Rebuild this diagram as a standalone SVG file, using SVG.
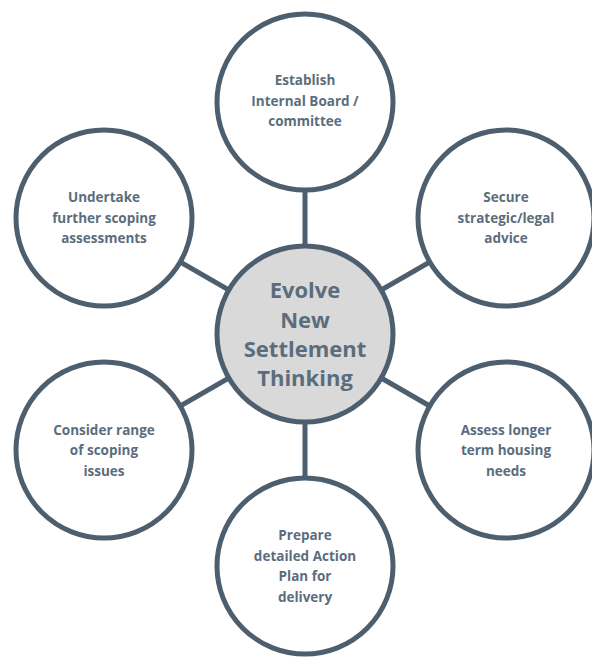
<svg xmlns="http://www.w3.org/2000/svg" width="592" height="658" viewBox="0 0 592 658">
<style>
.c{fill:#fff;stroke:#4d5f6e;stroke-width:5}
.hub{fill:#d9d9d9;stroke:#4d5f6e;stroke-width:5}
.t{font-family:"Open Sans",Lato,sans-serif;font-weight:bold;font-size:13.5px;fill:#5b6d7d;text-anchor:middle}
.h{font-family:"Open Sans",Lato,sans-serif;font-weight:bold;font-size:22px;fill:#5b6d7d;text-anchor:middle}
#connectors line{stroke:#4d5f6e;stroke-width:5}
</style>
<rect width="592" height="658" fill="#fff"/>
<g id="connectors">
<line x1="305" y1="334" x2="305" y2="102"/>
<line x1="305" y1="334" x2="305" y2="566"/>
<line x1="305" y1="334" x2="506" y2="218"/>
<line x1="305" y1="334" x2="506" y2="450"/>
<line x1="305" y1="334" x2="104" y2="218"/>
<line x1="305" y1="334" x2="104" y2="450"/>
</g>
<g id="n-top"><circle class="c" cx="305" cy="102" r="88"/>
<text class="t" x="305"><tspan x="305" y="85">Establish</tspan><tspan x="305" y="106">Internal Board /</tspan><tspan x="305" y="126">committee</tspan></text></g>
<g id="n-ur"><circle class="c" cx="506" cy="218" r="88"/>
<text class="t"><tspan x="506" y="202">Secure</tspan><tspan x="506" y="223">strategic/legal</tspan><tspan x="506" y="243">advice</tspan></text></g>
<g id="n-lr"><circle class="c" cx="506" cy="450" r="88"/>
<text class="t"><tspan x="506" y="435">Assess longer</tspan><tspan x="506" y="455">term housing</tspan><tspan x="506" y="476">needs</tspan></text></g>
<g id="n-bot"><circle class="c" cx="305" cy="566" r="88"/>
<text class="t"><tspan x="305" y="540">Prepare</tspan><tspan x="305" y="561">detailed Action</tspan><tspan x="305" y="581">Plan for</tspan><tspan x="305" y="602">delivery</tspan></text></g>
<g id="n-ll"><circle class="c" cx="104" cy="450" r="88"/>
<text class="t"><tspan x="104" y="435">Consider range</tspan><tspan x="104" y="455">of scoping</tspan><tspan x="104" y="476">issues</tspan></text></g>
<g id="n-ul"><circle class="c" cx="104" cy="218" r="88"/>
<text class="t"><tspan x="104" y="202">Undertake</tspan><tspan x="104" y="223">further scoping</tspan><tspan x="104" y="243">assessments</tspan></text></g>
<g id="n-hub"><circle class="hub" cx="305" cy="334" r="88"/>
<text class="h"><tspan x="305" y="298">Evolve</tspan><tspan x="305" y="328">New</tspan><tspan x="305" y="357">Settlement</tspan><tspan x="305" y="386">Thinking</tspan></text></g>
</svg>
